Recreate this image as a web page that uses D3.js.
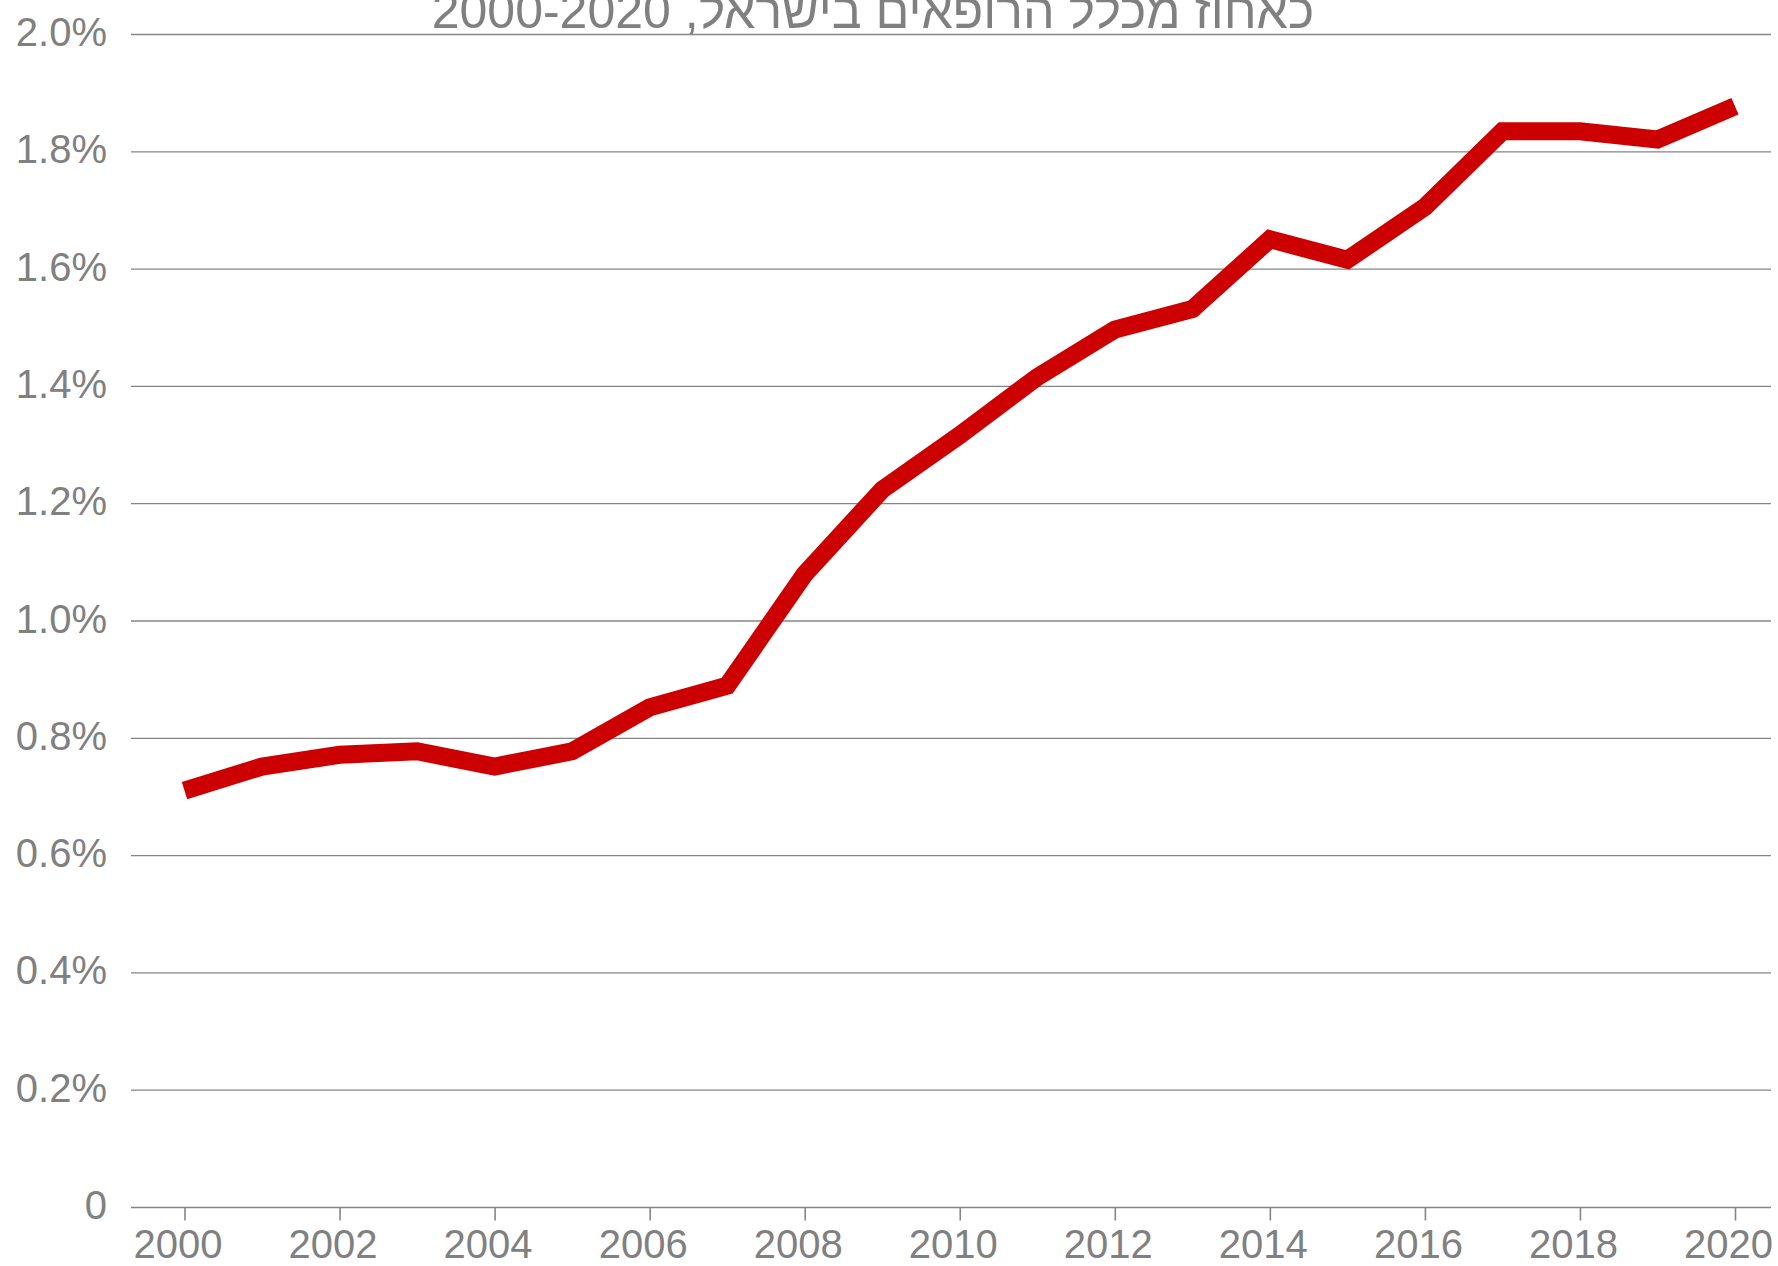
<!DOCTYPE html>
<html>
<head>
<meta charset="utf-8">
<script src="https://cdn.jsdelivr.net/npm/d3@7"></script>
<style>
  html, body { margin: 0; padding: 0; background: #fff; }
  svg { display: block; font-family: "Liberation Sans", Arial, sans-serif; }
</style>
</head>
<body>
<svg width="1778" height="1266"></svg>
<script>
// values (percent of all doctors)
var years = [2000, 2001, 2002, 2003, 2004, 2005, 2006, 2007, 2008, 2009, 2010,
             2011, 2012, 2013, 2014, 2015, 2016, 2017, 2018, 2019, 2020];
var shares = [0.710, 0.751, 0.771, 0.777, 0.751, 0.777, 0.852, 0.889, 1.079, 1.223, 1.316,
              1.415, 1.496, 1.531, 1.650, 1.615, 1.705, 1.834, 1.834, 1.820, 1.877];
var yTicks = [0, 0.2, 0.4, 0.6, 0.8, 1.0, 1.2, 1.4, 1.6, 1.8, 2.0];
var xTicks = [2000, 2002, 2004, 2006, 2008, 2010, 2012, 2014, 2016, 2018, 2020];
var title = "כאחוז מכלל הרופאים בישראל, 2000-2020";

var svg = d3.select("svg"),
    gridLeft = 131, gridRight = 1771,
    grey = "#858585";

var x = d3.scaleLinear().domain([2000, 2020]).range([184.5, 1735]);
var y = d3.scaleLinear().domain([0, 2]).range([1207, 34]);

// title (clipped at the top like the original)
svg.append("text")
    .attr("x", 873)
    .attr("y", 28)
    .attr("text-anchor", "middle")
    .attr("direction", "rtl")
    .attr("font-size", 50)
    .attr("fill", "#808080")
    .text(title);

// gridlines
svg.append("g").selectAll("line")
  .data(yTicks.slice(1))
  .enter().append("line")
    .attr("x1", gridLeft).attr("x2", gridRight)
    .attr("y1", function(d) { return y(d) + 0.5; })
    .attr("y2", function(d) { return y(d) + 0.5; })
    .attr("stroke", grey)
    .attr("stroke-width", 1.3);

// y labels
svg.append("g").selectAll("text")
  .data(yTicks)
  .enter().append("text")
    .attr("x", 107)
    .attr("y", function(d) { return y(d) + 12; })
    .attr("text-anchor", "end")
    .attr("font-size", 40)
    .attr("fill", "#808080")
    .text(function(d) { return d === 0 ? "0" : d.toFixed(1) + "%"; });

// x axis
var xAxis = d3.axisBottom(x)
    .tickValues(xTicks)
    .tickFormat(d3.format("d"))
    .tickSize(13)
    .tickSizeOuter(0)
    .tickPadding(9);

var gx = svg.append("g")
    .attr("transform", "translate(0," + (y(0) + 0.5) + ")")
    .call(xAxis);

gx.select(".domain")
    .attr("d", "M" + gridLeft + ",0H" + gridRight)
    .attr("stroke", grey)
    .attr("stroke-width", 1.6);
gx.selectAll(".tick line").attr("stroke", grey).attr("stroke-width", 1.6);
gx.selectAll(".tick text")
    .attr("font-family", "Liberation Sans, Arial, sans-serif")
    .attr("font-size", 40)
    .attr("dx", -7)
    .attr("fill", "#808080");

// the series
var line = d3.line()
    .x(function(d, i) { return x(years[i]); })
    .y(function(d) { return y(d); });

svg.append("path")
    .attr("d", line(shares))
    .attr("fill", "none")
    .attr("stroke", "#cc0000")
    .attr("stroke-width", 18)
    .attr("stroke-linejoin", "miter");
</script>
</body>
</html>
